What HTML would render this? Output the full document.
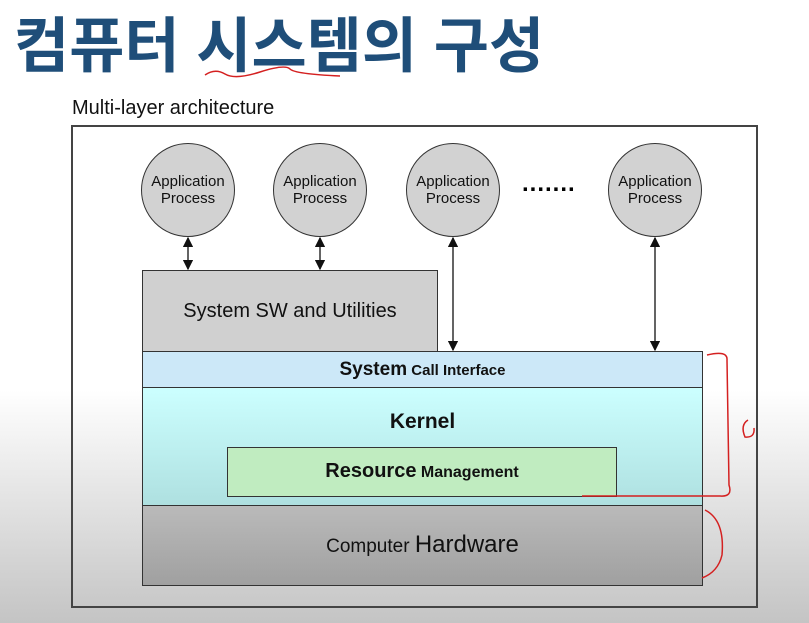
<!DOCTYPE html>
<html><head><meta charset="utf-8"><style>
body{margin:0;width:809px;height:623px;overflow:hidden;font-family:"Liberation Sans","Noto Sans CJK KR",sans-serif;
background:linear-gradient(#fff 0,#fff 390px,#c4c4c4 623px);position:relative}
.a{position:absolute;box-sizing:border-box}
.c{border:1.5px solid #333;border-radius:50%;background:#d2d2d2;width:94px;height:94px;display:flex;align-items:center;justify-content:center;text-align:center;font-size:15px;line-height:17px;color:#111}
.t{display:flex;align-items:center;justify-content:center;border:1.5px solid #333;color:#111}
</style></head><body>
<div class="a" style="left:14px;top:-2px;font-size:60px;font-weight:bold;color:#1f4e79;letter-spacing:0px">컴퓨터 시스템의 구성</div>
<div class="a" style="left:72px;top:97px;font-size:20px;color:#111">Multi-layer architecture</div>
<div class="a" style="left:71px;top:125px;width:687px;height:483px;border:2px solid #444"></div>
<div class="a c" style="left:141px;top:143px">Application<br>Process</div>
<div class="a c" style="left:273px;top:143px">Application<br>Process</div>
<div class="a c" style="left:406px;top:143px">Application<br>Process</div>
<div class="a c" style="left:608px;top:143px">Application<br>Process</div>
<div class="a" style="left:522px;top:170px;font-size:24px;font-weight:bold;letter-spacing:1px">.......</div>
<div class="a t" style="left:142px;top:270px;width:296px;height:83px;background:#d0d0d0;font-size:20px">System SW and Utilities</div>
<div class="a t" style="left:142px;top:351px;width:561px;height:38px;background:#cce8f8;font-size:15px;font-weight:bold;align-items:baseline;padding-top:7px"><span style="font-size:19px">System</span>&nbsp;Call Interface</div>
<div class="a t" style="left:142px;top:387px;width:561px;height:120px;background:linear-gradient(#ccffff,#aee0e0);align-items:flex-start;padding-top:22px;font-size:21px;font-weight:bold">Kernel</div>
<div class="a t" style="left:227px;top:447px;width:390px;height:50px;background:#c0ecc0;font-size:16px;font-weight:bold;align-items:baseline;padding-top:12px"><span style="font-size:20px">Resource</span>&nbsp;Management</div>
<div class="a t" style="left:142px;top:505px;width:561px;height:81px;background:linear-gradient(#bababa,#a0a0a0);font-size:19px;align-items:baseline;padding-top:25px">Computer&nbsp;<span style="font-size:24px">Hardware</span></div>
<svg class="a" style="left:0;top:0" width="809" height="623">
<defs><marker id="m" markerWidth="8" markerHeight="8" refX="7" refY="4" orient="auto-start-reverse"><path d="M0,0L8,4L0,8z" fill="#111"/></marker></defs>
<g stroke="#111" stroke-width="1.3">
<line x1="188" y1="238" x2="188" y2="269" marker-start="url(#m)" marker-end="url(#m)"/>
<line x1="320" y1="238" x2="320" y2="269" marker-start="url(#m)" marker-end="url(#m)"/>
<line x1="453" y1="238" x2="453" y2="350" marker-start="url(#m)" marker-end="url(#m)"/>
<line x1="655" y1="238" x2="655" y2="350" marker-start="url(#m)" marker-end="url(#m)"/>
</g>
<g stroke="#d42020" stroke-width="1.5" fill="none">
<path d="M205,75 Q215,68 225,74 T260,72 T290,69 T340,76"/>
<path d="M707,355 Q728,350 727,360 L729,485 Q733,497 720,496 L582,496"/>
<path d="M748,420 Q740,425 745,437 Q755,438 754,428"/>
<path d="M705,510 Q725,520 722,555 Q718,572 702,578"/>
</g>
</svg>
</body></html>
